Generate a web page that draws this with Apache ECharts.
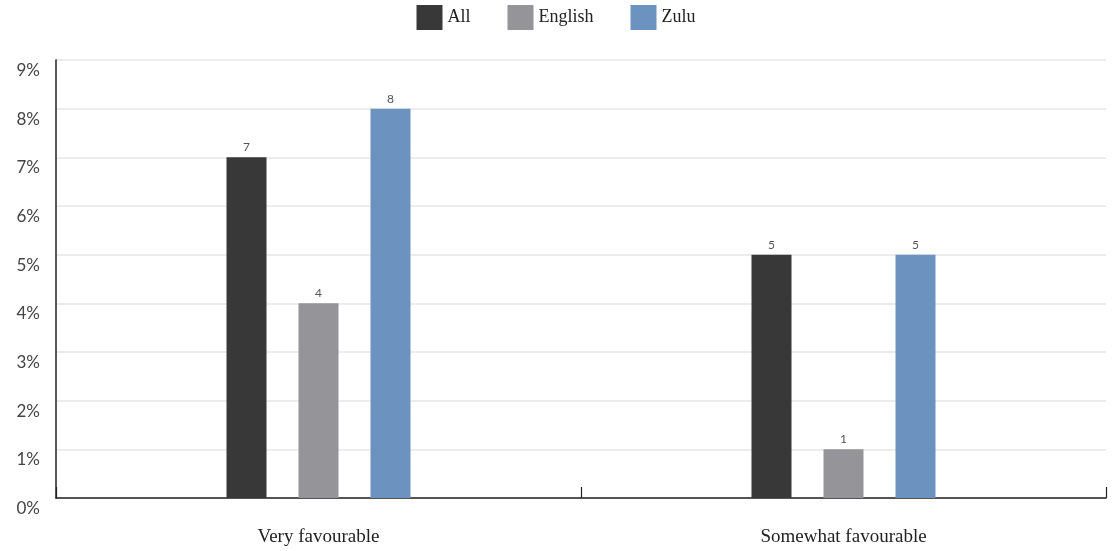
<!DOCTYPE html>
<html><head><meta charset="utf-8">
<script src="https://cdn.jsdelivr.net/npm/echarts@6/dist/echarts.min.js"></script>
<style>html,body{margin:0;padding:0;background:#fff}#c{width:1112px;height:551px}</style>
</head><body><div id="c"></div>
<script>
const categories = ['Very favourable', 'Somewhat favourable'];
const seriesNames = ['All', 'English', 'Zulu'];
const allValues = [7, 5];
const englishValues = [4, 1];
const zuluValues = [8, 5];
const colors = ['#383838', '#959498', '#6c93bf'];
const yTicks = [0, 1, 2, 3, 4, 5, 6, 7, 8, 9];

const chart = echarts.init(document.getElementById('c'));
const data = [allValues, englishValues, zuluValues];
chart.setOption({
  animation: false,
  legend: {
    top: 0, left: 'center', itemWidth: 26, itemHeight: 25, itemGap: 37,
    icon: 'rect',
    textStyle: { fontFamily: 'Liberation Serif', fontSize: 18, color: '#222' }
  },
  grid: { left: 56, right: 6, top: 60, bottom: 53 },
  xAxis: {
    type: 'category', data: categories,
    axisLine: { show: true, lineStyle: { color: '#222', width: 1.5 } },
    axisTick: { show: true, inside: true, length: 11, alignWithLabel: false, lineStyle: { color: '#222', width: 1.2 } },
    axisLabel: { margin: 30, fontFamily: 'Liberation Serif', fontSize: 19, color: '#222' }
  },
  yAxis: {
    type: 'value', min: yTicks[0], max: yTicks[yTicks.length - 1], interval: 1,
    axisLine: { show: true, lineStyle: { color: '#222', width: 1.5 } },
    axisTick: { show: false },
    splitLine: { lineStyle: { color: '#e6e6e6', width: 1.5 } },
    axisLabel: { formatter: '{value}%', verticalAlign: 'top', padding: [2, 0, 0, 0], margin: 16, fontFamily: 'Lato', fontSize: 17, color: '#444' }
  },
  series: seriesNames.map((n, i) => ({
    name: n, type: 'bar', data: data[i], barWidth: 40, barGap: '80%',
    itemStyle: { color: colors[i] },
    label: { show: true, position: 'top', distance: 4, fontFamily: 'Lato', fontSize: 12, color: '#555' }
  }))
});
</script></body></html>
